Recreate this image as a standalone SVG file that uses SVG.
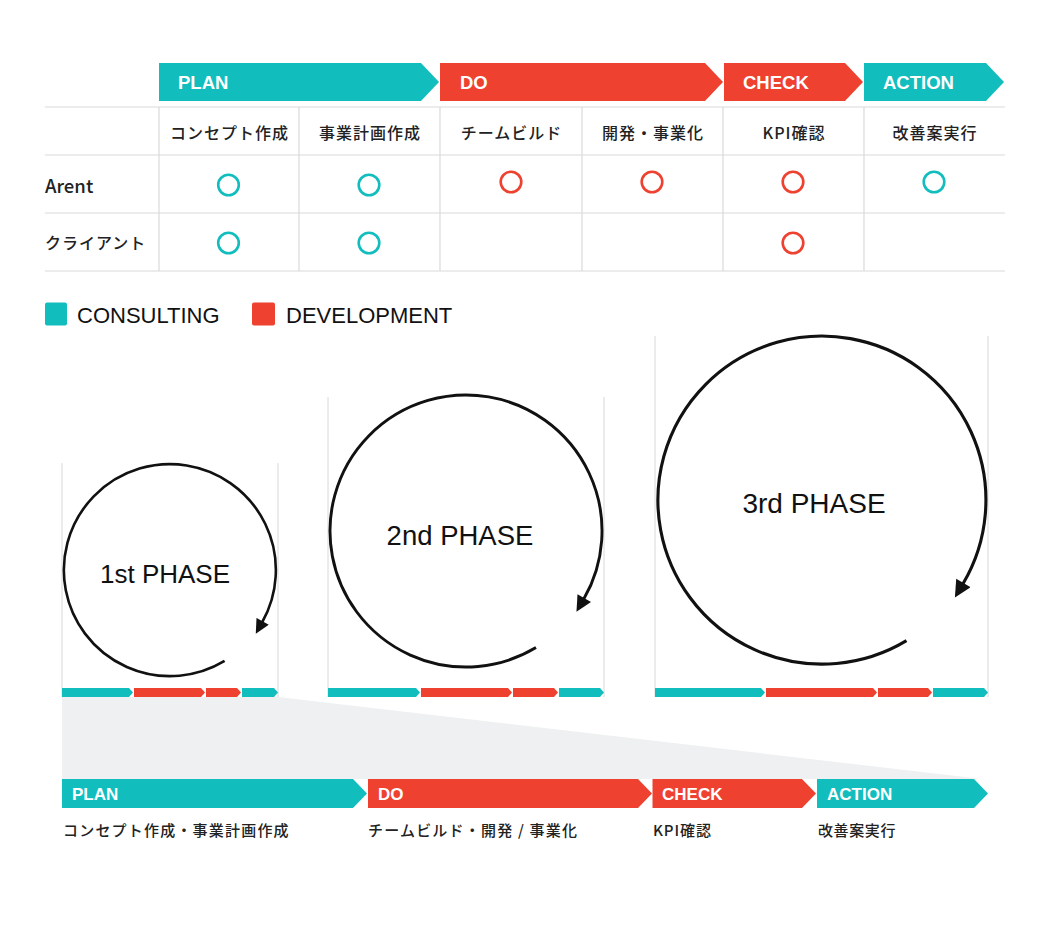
<svg xmlns="http://www.w3.org/2000/svg" width="1050" height="930" viewBox="0 0 1050 930">
<style>
.teal{fill:#12bdbd}
.red{fill:#ee4130}
.hd{font-family:"Liberation Sans",Arial,sans-serif;font-weight:bold;fill:#fff}
.jp{font-family:"Noto Sans CJK JP","Noto Sans",sans-serif;font-weight:500;fill:#222}
.grid{stroke:#dadada;stroke-width:1.2;fill:none}
.ring{fill:none;stroke-width:2.6}
.rt{stroke:#12bdbd}
.rr{stroke:#ee4130}
.lg{font-family:"Liberation Sans",Arial,sans-serif;font-size:22px;fill:#111}
.ph{font-family:"Liberation Sans",Arial,sans-serif;fill:#111;text-anchor:middle}
.pl{stroke:#d8d8d8;stroke-width:1}
.cyc{fill:none;stroke:#111}
</style>
<defs>
<marker id="ah" viewBox="0 0 10 10" refX="0.5" refY="5" markerWidth="6" markerHeight="5.4" orient="auto" markerUnits="strokeWidth">
<path d="M0,0 L10,5 L0,10 Z" fill="#111"/>
</marker>
</defs>
<rect width="1050" height="930" fill="#fff"/>

<!-- header arrows -->
<g id="hdr-plan"><polygon class="teal" points="159,63 421,63 439,82 421,101 159,101"/><text class="hd" x="178" y="89" font-size="18.5">PLAN</text></g>
<g id="hdr-do"><polygon class="red" points="440,63 705,63 723,82 705,101 440,101"/><text class="hd" x="460" y="89" font-size="18.5">DO</text></g>
<g id="hdr-check"><polygon class="red" points="724,63 845,63 863,82 845,101 724,101"/><text class="hd" x="743" y="89" font-size="18.5">CHECK</text></g>
<g id="hdr-action"><polygon class="teal" points="864,63 986,63 1004,82 986,101 864,101"/><text class="hd" x="883" y="89" font-size="18.5">ACTION</text></g>

<!-- table -->
<g id="table">
<path class="grid" d="M45,107H1005M45,155H1005M45,213H1005M45,271H1005M159,107V271M299,107V271M440,107V271M582,107V271M723,107V271M864,107V271"/>
<g class="jp" font-size="16" letter-spacing="1" text-anchor="middle">
<text x="229.5" y="139">コンセプト作成</text>
<text x="370" y="139">事業計画作成</text>
<text x="511.5" y="139">チームビルド</text>
<text x="653" y="139">開発・事業化</text>
<text x="794" y="139">KPI確認</text>
<text x="935" y="139">改善案実行</text>
</g>
<text class="jp" x="45" y="193" font-size="18.5" font-weight="500">Arent</text>
<text class="jp" x="45" y="249" font-size="16" letter-spacing="1">クライアント</text>
<circle class="ring rt" cx="228.5" cy="185" r="10.3"/>
<circle class="ring rt" cx="369" cy="185" r="10.3"/>
<circle class="ring rr" cx="511" cy="182" r="10.3"/>
<circle class="ring rr" cx="652" cy="182" r="10.3"/>
<circle class="ring rr" cx="793" cy="182" r="10.3"/>
<circle class="ring rt" cx="934" cy="182" r="10.3"/>
<circle class="ring rt" cx="228.5" cy="243" r="10.3"/>
<circle class="ring rt" cx="369" cy="243" r="10.3"/>
<circle class="ring rr" cx="793" cy="243" r="10.3"/>
</g>

<!-- legend -->
<g id="legend">
<rect class="teal" x="45" y="302.5" width="22" height="23" rx="2"/>
<text class="lg" x="77" y="323">CONSULTING</text>
<rect class="red" x="252" y="302.5" width="23" height="23" rx="2"/>
<text class="lg" x="286" y="323">DEVELOPMENT</text>
</g>

<!-- zoom funnel -->
<polygon id="funnel" points="62,697 278,697 982,779 62,779" fill="#eef0f1"/>

<!-- phase panels -->
<g id="phase1">
<path class="pl" d="M62,463V697M278,463V697"/>
<text class="ph" x="165" y="583" font-size="26">1st PHASE</text>
<polygon class="teal" points="62,688 129,688 133,692.5 129,697 62,697"/>
<polygon class="red" points="134,688 201,688 205,692.5 201,697 134,697"/>
<polygon class="red" points="206,688 237,688 241,692.5 237,697 206,697"/>
<polygon class="teal" points="242,688 274,688 278,692.5 274,697 242,697"/>
</g>
<g id="phase2">
<path class="pl" d="M328,397V697M604,397V697"/>
<text class="ph" x="460" y="545" font-size="27.5">2nd PHASE</text>
<polygon class="teal" points="328,688 416,688 420,692.5 416,697 328,697"/>
<polygon class="red" points="421,688 508,688 512,692.5 508,697 421,697"/>
<polygon class="red" points="513,688 554,688 558,692.5 554,697 513,697"/>
<polygon class="teal" points="559,688 600,688 604,692.5 600,697 559,697"/>
</g>
<g id="phase3">
<path class="pl" d="M655,336V697M988,336V697"/>
<text class="ph" x="814" y="513" font-size="28">3rd PHASE</text>
<polygon class="teal" points="655,688 761,688 765,692.5 761,697 655,697"/>
<polygon class="red" points="766,688 873,688 877,692.5 873,697 766,697"/>
<polygon class="red" points="878,688 928,688 932,692.5 928,697 878,697"/>
<polygon class="teal" points="933,688 984,688 988,692.5 984,697 933,697"/>
</g>

<!-- cycle connectors -->
<g id="connectors">
<path class="cyc" stroke-width="2.6" marker-end="url(#ah)" d="M224.6,660.9 A106,106 0 1 1 262.3,622.0"/>
<path class="cyc" stroke-width="2.9" marker-end="url(#ah)" d="M536.0,647.6 A136,136 0 1 1 583.9,598.8"/>
<path class="cyc" stroke-width="3.1" marker-end="url(#ah)" d="M906.5,640.6 A164,164 0 1 1 963.0,583.7"/>
</g>

<!-- bottom arrows -->
<g id="bot-plan"><polygon class="teal" points="62,779 353,779 367,793.5 353,808 62,808"/><text class="hd" x="72" y="800" font-size="17">PLAN</text>
<text class="jp" x="63" y="836" font-size="15" letter-spacing="1.2">コンセプト作成・事業計画作成</text></g>
<g id="bot-do"><polygon class="red" points="368,779 638,779 652,793.5 638,808 368,808"/><text class="hd" x="378" y="800" font-size="17">DO</text>
<text class="jp" x="368" y="836" font-size="15" letter-spacing="1.2">チームビルド・開発 / 事業化</text></g>
<g id="bot-check"><polygon class="red" points="652.5,779 802,779 816,793.5 802,808 652.5,808"/><text class="hd" x="662" y="800" font-size="17">CHECK</text>
<text class="jp" x="653" y="836" font-size="15" letter-spacing="0.9">KPI確認</text></g>
<g id="bot-action"><polygon class="teal" points="817,779 974,779 988,793.5 974,808 817,808"/><text class="hd" x="827" y="800" font-size="17">ACTION</text>
<text class="jp" x="818" y="836" font-size="15" letter-spacing="0.6">改善案実行</text></g>
</svg>
